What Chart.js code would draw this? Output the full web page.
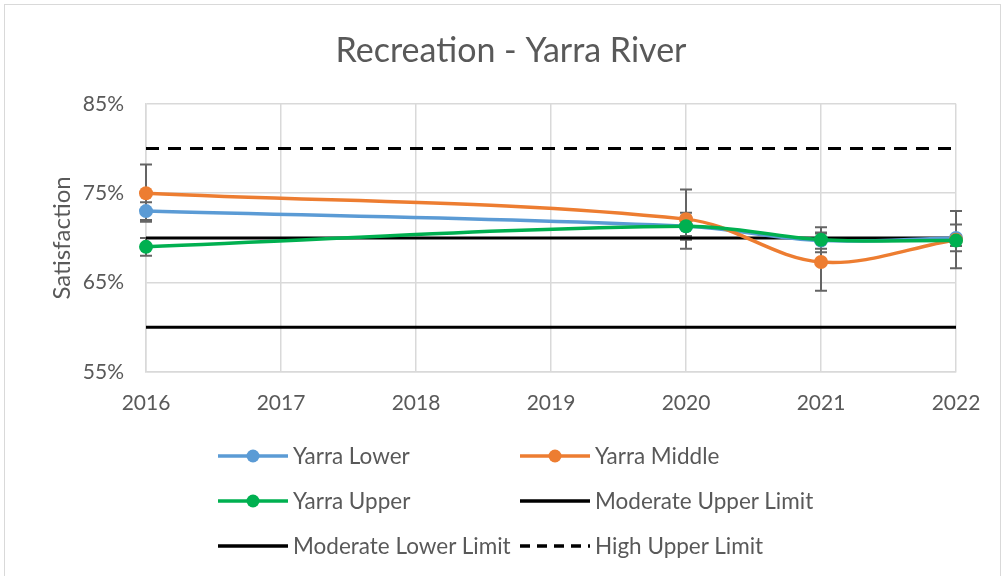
<!DOCTYPE html>
<html>
<head>
<meta charset="utf-8">
<script src="https://cdn.jsdelivr.net/npm/chart.js@4/dist/chart.umd.min.js"></script>
<style>
    body { margin: 0; background: #fff; }
    #wrap { position: relative; width: 1005px; height: 576px; overflow: hidden; font-family: Lato, "Open Sans", sans-serif; }
    #frame { position: absolute; left: 4px; top: 4px; width: 997px; height: 600px; border: 1.5px solid #d9d9d9; box-sizing: border-box; }
    #chart { position: absolute; left: 0; top: 0; }
    #legend { position: absolute; left: 218px; top: 433px; display: grid; grid-template-columns: 302px auto; grid-auto-rows: 45px; }
    .item { display: flex; align-items: center; color: #595959; font-size: 22.5px; white-space: nowrap; }
    .item svg { margin-right: 5px; }
</style>
</head>
<body>
<div id="wrap">
    <div id="frame"></div>
    <canvas id="chart" width="1005" height="576"></canvas>
    <div id="legend"></div>
</div>
<script>
// survey years and values
const years = [2016, 2020, 2021, 2022];
const lowerVals = [73.0, 71.3, 69.7, 70.0];
const middleVals = [75.0, 72.1, 67.3, 69.8];
const upperVals = [69.0, 71.3, 69.8, 69.7];
// +/- error
const lowerErr = [1.0, 1.5, 0.9, 1.5];
const middleErr = [3.2, 3.3, 3.2, 3.2];
const upperErr = [1.0, 1.1, 1.4, 0.6];

// limit lines
const limitYears = [2016, 2022];
const moderateUpperVals = [70, 70];
const moderateLowerVals = [60, 60];
const highUpperVals = [80, 80];

const yTicks = [55, 65, 75, 85];

const toPoints = (xs, ys) => xs.map((x, i) => ({x: x, y: ys[i]}));

const series = [
    {label: "Yarra Lower", color: "#5B9BD5", values: lowerVals, err: lowerErr, order: 2},
    {label: "Yarra Middle", color: "#ED7D31", values: middleVals, err: middleErr, order: 1},
    {label: "Yarra Upper", color: "#00B050", values: upperVals, err: upperErr, order: 0}
];
const limits = [
    {label: "Moderate Upper Limit", values: moderateUpperVals, dash: []},
    {label: "Moderate Lower Limit", values: moderateLowerVals, dash: []},
    {label: "High Upper Limit", values: highUpperVals, dash: [13, 9]}
];

const datasets = [];
series.forEach(s => {
    datasets.push({
        label: s.label,
        data: toPoints(years, s.values),
        borderColor: s.color,
        backgroundColor: s.color,
        borderWidth: 3.5,
        pointRadius: 7,
        pointHoverRadius: 7,
        pointBorderWidth: 0,
        tension: 0.35,
        clip: false,
        order: s.order
    });
});
limits.forEach((l, i) => {
    datasets.push({
        label: l.label,
        data: toPoints(limitYears, l.values),
        borderColor: "#000",
        borderWidth: 3,
        borderDash: l.dash,
        pointRadius: 0,
        clip: false,
        order: 3 + i
    });
});

const errorBars = {
    id: "errorBars",
    beforeDatasetsDraw(chart) {
        const ctx = chart.ctx;
        const xs = chart.scales.x, ys = chart.scales.y;
        ctx.save();
        ctx.strokeStyle = "#646464";
        ctx.lineWidth = 2;
        series.forEach(s => {
            years.forEach((yr, i) => {
                const x = xs.getPixelForValue(yr);
                const top = ys.getPixelForValue(s.values[i] + s.err[i]);
                const bot = ys.getPixelForValue(s.values[i] - s.err[i]);
                ctx.beginPath();
                ctx.moveTo(x, top); ctx.lineTo(x, bot);
                ctx.moveTo(x - 6, top); ctx.lineTo(x + 6, top);
                ctx.moveTo(x - 6, bot); ctx.lineTo(x + 6, bot);
                ctx.stroke();
            });
        });
        ctx.restore();
    }
};

const font = {family: "Lato, 'Open Sans', sans-serif", size: 21};

new Chart(document.getElementById("chart"), {
    type: "line",
    data: {datasets: datasets},
    options: {
        responsive: false,
        animation: false,
        layout: {padding: {left: 66, right: 49, top: 0, bottom: 154}},
        plugins: {
            legend: {display: false},
            tooltip: {enabled: false},
            title: {
                display: true,
                text: "Recreation - Yarra River",
                color: "#595959",
                font: {family: font.family, size: 34, weight: "normal"},
                padding: {top: 31, bottom: 32}
            }
        },
        scales: {
            x: {
                type: "linear",
                min: years[0],
                max: years[years.length - 1],
                ticks: {stepSize: 1, color: "#595959", font: font, padding: 19, callback: v => String(v)},
                grid: {color: "#d9d9d9", lineWidth: 1.5, drawTicks: false},
                border: {color: "#d9d9d9", width: 1.5},
                afterFit: s => { s.height = 50; }
            },
            y: {
                min: yTicks[0],
                max: yTicks[yTicks.length - 1],
                afterBuildTicks: s => { s.ticks = yTicks.map(v => ({value: v})); },
                ticks: {color: "#595959", font: font, padding: 22, callback: v => v + "%"},
                grid: {color: "#d9d9d9", lineWidth: 1.5, drawTicks: false},
                border: {color: "#d9d9d9", width: 1.5},
                title: {display: true, text: "Satisfaction", color: "#595959", font: {family: font.family, size: 24}, padding: {top: -18, bottom: 0}},
                afterFit: s => { s.width = 80; }
            }
        }
    },
    plugins: [errorBars]
});

// legend: two columns like the original
const legendBox = document.getElementById("legend");
const legendItems = series.map(s => ({label: s.label, color: s.color, dash: "", marker: true}))
    .concat(limits.map(l => ({label: l.label, color: "#000", dash: "10,7", solid: l.dash.length === 0, marker: false})));
legendItems.forEach(it => {
    const div = document.createElement("div");
    div.className = "item";
    const dash = it.marker || it.solid ? "" : `stroke-dasharray="${it.dash}"`;
    div.innerHTML = `<svg width="70" height="16"><line x1="0" y1="8" x2="70" y2="8" stroke="${it.color}" stroke-width="3.5" ${dash}/>` +
        (it.marker ? `<circle cx="35" cy="8" r="6.5" fill="${it.color}"/>` : "") + `</svg><span>${it.label}</span>`;
    legendBox.appendChild(div);
});
</script>
</body>
</html>
